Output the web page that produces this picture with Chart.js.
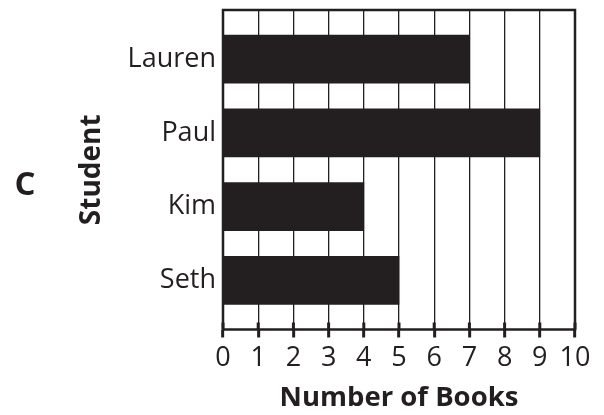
<!DOCTYPE html>
<html>
<head>
<meta charset="utf-8">
<script src="https://cdn.jsdelivr.net/npm/chart.js@4/dist/chart.umd.min.js"></script>
<style>
  html, body { margin: 0; padding: 0; background: #fff; }
  canvas { display: block; }
</style>
</head>
<body>
<canvas id="chart" width="604" height="415"></canvas>
<script>
  // Dados do gráfico
  const students = ['Lauren', 'Paul', 'Kim', 'Seth'];
  const books = [7, 9, 4, 5];
  const xTicks = [0, 1, 2, 3, 4, 5, 6, 7, 8, 9, 10];
  const sideLabel = 'C';

  const ink = '#231f20';
  const fontFamily = '"Open Sans", "DejaVu Sans", sans-serif';

  // moldura, marcas que cruzam o eixo x e a letra "C" à esquerda
  const framePlugin = {
    id: 'frame',
    afterDraw(chart) {
      const { ctx, chartArea: a } = chart;
      const xs = chart.scales.x;
      ctx.save();
      ctx.strokeStyle = ink;
      ctx.lineWidth = 3;
      xTicks.forEach(v => {
        const px = xs.getPixelForValue(v);
        ctx.beginPath();
        ctx.moveTo(px, a.bottom - 7);
        ctx.lineTo(px, a.bottom);
        ctx.stroke();
      });
      ctx.lineWidth = 2.5;
      ctx.strokeRect(a.left, a.top, a.right - a.left, a.bottom - a.top);
      ctx.fillStyle = ink;
      ctx.font = 'bold 33px ' + fontFamily;
      ctx.textAlign = 'center';
      ctx.textBaseline = 'middle';
      ctx.fillText(sideLabel, 25, 186);
      ctx.restore();
    }
  };

  new Chart(document.getElementById('chart'), {
    type: 'bar',
    data: {
      datasets: [{
        data: students.map((s, i) => ({ x: books[i], y: i + 1 })),
        backgroundColor: ink,
        borderWidth: 0,
        barThickness: 48
      }]
    },
    options: {
      indexAxis: 'y',
      responsive: false,
      animation: false,
      devicePixelRatio: 1,
      layout: { padding: { top: 10, right: 29, bottom: 0, left: 0 } },
      plugins: { legend: { display: false }, tooltip: { enabled: false } },
      scales: {
        x: {
          type: 'linear',
          min: 0,
          max: 10,
          afterBuildTicks: s => { s.ticks = xTicks.map(v => ({ value: v })); },
          afterFit: s => { s.height = 85.5; },
          grid: { color: ink, lineWidth: 1.3, tickLength: 8, tickWidth: 3, tickColor: ink },
          border: { display: false },
          ticks: {
            color: ink,
            padding: 5,
            autoSkip: false,
            maxRotation: 0,
            minRotation: 0,
            font: { family: fontFamily, size: 27 }
          },
          title: {
            display: true,
            text: 'Number of Books',
            color: ink,
            padding: { top: 0, bottom: 0 },
            font: { family: fontFamily, size: 27.5, weight: 'bold' }
          }
        },
        y: {
          type: 'linear',
          reverse: true,
          offset: false,
          min: 1 / 3,
          max: 4 + 2 / 3,
          afterBuildTicks: s => { s.ticks = students.map((n, i) => ({ value: i + 1 })); },
          afterFit: s => {
            s.width = 223;
            s.paddingTop = 0;
            s.paddingBottom = 0;
          },
          grid: { display: false, drawTicks: false, offset: false },
          border: { display: false },
          ticks: {
            color: ink,
            padding: 7,
            font: { family: fontFamily, size: 27 },
            callback: v => students[v - 1]
          },
          title: {
            display: true,
            text: 'Student',
            color: ink,
            padding: { top: 75, bottom: 0 },
            font: { family: fontFamily, size: 28, weight: 'bold' }
          }
        }
      }
    },
    plugins: [framePlugin]
  });
</script>
</body>
</html>
